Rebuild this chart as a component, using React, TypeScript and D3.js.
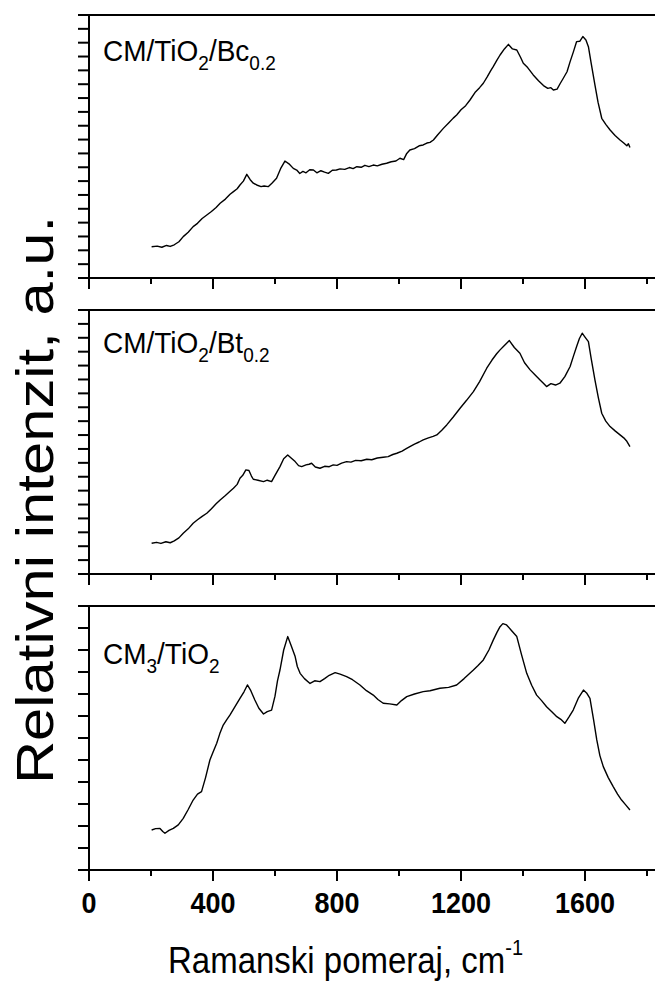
import React from "react";
import * as d3 from "d3";

// Raman shift (cm^-1) and relative intensity (a.u.)
const bcX = [202,220,235,250,262,275,290,304,320,336,350,365,380,395,410,423,440,455,466,478,487,498,509,520,530,541,555,565,578,590,605,618,632,645,659,670,680,690,700,712,724,735,748,760,772,785,798,810,825,840,852,864,878,890,903,917,930,945,960,975,990,1003,1015,1025,1035,1050,1065,1078,1090,1100,1111,1125,1143,1160,1175,1186,1200,1215,1229,1245,1260,1272,1285,1295,1304,1315,1326,1340,1353,1366,1380,1392,1401,1415,1433,1450,1466,1480,1490,1498,1510,1520,1530,1542,1552,1562,1573,1583,1593,1603,1611,1620,1632,1642,1654,1667,1681,1697,1713,1725,1735,1740,1745];
const bcY = [2.26,2.30,2.22,2.35,2.28,2.40,2.62,2.99,3.30,3.71,3.95,4.30,4.55,4.80,5.10,5.40,5.70,6.05,6.24,6.45,6.72,7.00,7.49,7.10,6.85,6.72,6.60,6.65,6.60,6.85,7.20,7.90,8.45,8.25,7.92,7.80,7.55,7.70,7.60,7.82,7.80,7.60,7.75,7.65,7.56,7.78,7.80,7.88,7.85,7.98,7.90,8.04,8.00,8.14,8.05,8.16,8.10,8.22,8.29,8.40,8.45,8.65,8.55,9.00,9.25,9.35,9.55,9.61,9.75,9.80,9.97,10.35,10.81,11.20,11.55,11.78,12.15,12.45,12.86,13.40,13.75,14.07,14.55,14.95,15.27,15.70,16.11,16.55,16.88,16.55,16.47,15.95,15.51,15.20,14.67,14.25,13.90,13.70,13.75,13.58,13.65,14.05,14.43,14.90,15.63,16.30,17.08,17.10,17.44,17.20,16.71,15.50,13.95,12.70,11.54,11.10,10.69,10.30,9.97,9.75,9.55,9.70,9.42];

const btX = [202,218,232,248,262,275,290,304,320,336,350,365,380,395,410,423,440,455,466,478,487,496,506,516,524,530,545,563,575,589,600,616,628,641,652,665,676,686,700,710,718,730,745,760,775,788,800,815,831,845,860,878,896,912,930,949,965,980,993,1010,1022,1035,1050,1065,1078,1095,1110,1122,1138,1154,1175,1197,1218,1240,1260,1283,1300,1315,1326,1340,1356,1372,1390,1405,1423,1440,1455,1465,1476,1490,1505,1519,1535,1552,1563,1573,1582,1591,1600,1611,1620,1632,1643,1654,1667,1681,1697,1713,1725,1735,1745];
const btY = [2.21,2.28,2.20,2.32,2.25,2.38,2.60,2.93,3.25,3.65,3.90,4.15,4.37,4.70,5.05,5.33,5.65,5.95,6.17,6.45,6.89,7.10,7.49,7.45,7.05,6.82,6.75,6.65,6.75,6.65,7.10,7.73,8.30,8.57,8.35,8.09,7.80,7.73,7.85,7.90,7.97,7.70,7.61,7.75,7.72,7.85,7.82,7.98,8.09,8.05,8.18,8.15,8.26,8.22,8.35,8.40,8.45,8.60,8.69,8.85,9.00,9.17,9.35,9.50,9.65,9.80,9.90,10.01,10.35,10.73,11.30,11.93,12.50,13.13,13.85,14.81,15.40,15.85,16.13,16.45,16.80,16.30,15.89,15.20,14.69,14.30,13.97,13.75,13.49,13.70,13.60,13.73,14.20,14.93,15.70,16.37,16.95,17.33,17.05,16.72,15.50,13.97,12.70,11.57,11.00,10.61,10.30,10.01,9.80,9.55,9.17];

const cmX = [202,215,229,238,245,258,272,288,304,320,336,350,363,376,390,400,412,422,433,445,455,470,487,500,511,522,535,548,563,575,589,600,608,616,628,641,652,665,672,681,695,713,728,745,760,775,794,810,831,850,874,895,917,932,949,970,993,1008,1025,1050,1078,1100,1132,1160,1186,1210,1240,1255,1272,1290,1304,1316,1326,1335,1347,1362,1380,1395,1412,1428,1444,1460,1476,1492,1509,1522,1535,1548,1562,1578,1595,1605,1616,1628,1638,1648,1659,1675,1691,1705,1718,1732,1745];
const cmY = [1.82,1.88,1.89,1.75,1.67,1.80,1.89,2.05,2.35,2.75,3.18,3.45,3.56,4.20,5.00,5.35,5.76,6.20,6.59,6.85,7.05,7.40,7.80,8.10,8.41,8.15,7.73,7.35,7.09,7.20,7.27,7.90,8.60,9.09,10.00,10.61,10.20,9.70,9.25,8.94,8.70,8.48,8.60,8.56,8.70,8.85,8.97,8.90,8.79,8.65,8.41,8.15,7.95,7.75,7.58,7.55,7.50,7.70,7.88,8.00,8.11,8.15,8.26,8.30,8.41,8.70,9.09,9.30,9.55,10.00,10.45,10.80,11.06,11.20,11.14,10.90,10.61,9.80,8.94,8.40,7.95,7.70,7.42,7.20,6.97,6.85,6.67,6.95,7.27,7.80,8.18,8.05,7.80,6.80,5.91,5.20,4.70,4.20,3.79,3.45,3.18,2.95,2.73];

const xTicks = [0, 400, 800, 1200, 1600];
const xMinorTicks = [200, 600, 1000, 1400, 1800];

type Panel = { top: number; bottom: number; yMax: number; xs: number[]; ys: number[]; label: "Bc" | "Bt" | "CM3"; labelY: number };

const panels: Panel[] = [
  { top: 15, bottom: 278, yMax: 19, xs: bcX, ys: bcY, label: "Bc", labelY: 61 },
  { top: 310, bottom: 574, yMax: 19, xs: btX, ys: btY, label: "Bt", labelY: 353 },
  { top: 606, bottom: 870, yMax: 12, xs: cmX, ys: cmY, label: "CM3", labelY: 664 },
];

const FONT = "'Liberation Sans', Arial, sans-serif";

function PanelLabel({ kind, y }: { kind: string; y: number }) {
  const fs = 28;
  const sub = 19;
  const tr = `translate(103,${y}) scale(1,1.08)`;
  if (kind === "CM3") {
    return (
      <text transform={tr} fontFamily={FONT} fontSize={fs} fill="#000">
        CM<tspan fontSize={sub} dy={8}>3</tspan>
        <tspan dy={-8}>/TiO</tspan>
        <tspan fontSize={sub} dy={8}>2</tspan>
      </text>
    );
  }
  return (
    <text transform={tr} fontFamily={FONT} fontSize={fs} fill="#000">
      CM/TiO<tspan fontSize={sub} dy={8}>2</tspan>
      <tspan dy={-8}>/{kind === "Bc" ? "Bc" : "Bt"}</tspan>
      <tspan fontSize={sub} dy={8}>0.2</tspan>
    </text>
  );
}

export default function App() {
  const W = 655;
  const H = 982;
  const x = d3.scaleLinear().domain([0, 1830]).range([89, 89 + 0.31 * 1830]);
  const axisW = 2;

  return (
    <svg width={W} height={H} style={{ position: "absolute", left: 0, top: 0, background: "#fff" }}>
      <rect x={0} y={0} width={W} height={H} fill="#fff" />
      {panels.map((p, i) => {
        const y = d3.scaleLinear().domain([0, p.yMax]).range([p.bottom, p.top]);
        const line = d3
          .line<number>()
          .x((_, k) => x(p.xs[k]))
          .y((v) => y(v));
        const yt = d3.range(0, p.yMax + 1);
        return (
          <g key={i}>
            <path d={line(p.ys) || ""} fill="none" stroke="#000" strokeWidth={1.4} strokeLinejoin="round" />
            <line x1={x(0)} x2={x(1830)} y1={p.top} y2={p.top} stroke="#000" strokeWidth={axisW} />
            <line x1={x(0)} x2={x(1830)} y1={p.bottom} y2={p.bottom} stroke="#000" strokeWidth={axisW} />
            <line x1={x(0)} x2={x(0)} y1={p.top} y2={p.bottom} stroke="#000" strokeWidth={axisW} />
            <line x1={x(1830)} x2={x(1830)} y1={p.top} y2={p.bottom} stroke="#000" strokeWidth={axisW} />
            {yt.map((t) => (
              <line key={"y" + t} x1={x(0) - 11} x2={x(0)} y1={y(t)} y2={y(t)} stroke="#000" strokeWidth={axisW} />
            ))}
            {xTicks.map((t) => (
              <line key={"x" + t} x1={x(t)} x2={x(t)} y1={p.bottom} y2={p.bottom + 11} stroke="#000" strokeWidth={axisW} />
            ))}
            {xMinorTicks.map((t) => (
              <line key={"m" + t} x1={x(t)} x2={x(t)} y1={p.bottom} y2={p.bottom + 6} stroke="#000" strokeWidth={axisW} />
            ))}
            <PanelLabel kind={p.label} y={p.labelY} />
          </g>
        );
      })}
      {xTicks.map((t) => (
        <text
          key={"l" + t}
          transform={`translate(${x(t)},913) scale(1,1.12)`}
          textAnchor="middle"
          fontFamily={FONT}
          fontWeight="bold"
          fontSize={27}
          fill="#000"
        >
          {t}
        </text>
      ))}
      <text transform="translate(168,973) scale(1,1.12)" fontFamily={FONT} fontSize={33} fill="#000">
        Ramanski pomeraj, cm<tspan fontSize={20} dy={-16}>-1</tspan>
      </text>
      <text
        transform="translate(53,500) scale(1,1.15) rotate(-90)"
        textAnchor="middle"
        fontFamily={FONT}
        fontSize={52}
        fill="#000"
      >
        Relativni intenzit, a.u.
      </text>
    </svg>
  );
}
